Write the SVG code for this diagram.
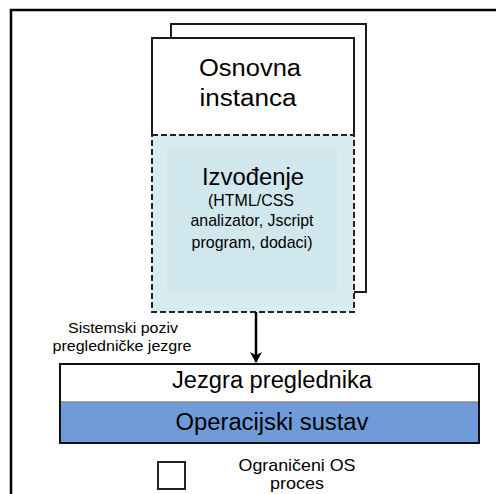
<svg xmlns="http://www.w3.org/2000/svg" width="496" height="494" viewBox="0 0 496 494">
<style>
text{font-family:"Liberation Sans",Arial,sans-serif;fill:#000;text-anchor:middle}
.solid{stroke:#1a1a1a;stroke-width:2}
.dash{stroke:#222;stroke-width:2;stroke-dasharray:6,3}
.big{font-size:23px}
.mid{font-size:17px}
.sm{font-size:15px}
</style>
<defs>
<marker id="ah" viewBox="0 0 12 12" refX="10" refY="6" markerWidth="12" markerHeight="12" markerUnits="userSpaceOnUse" orient="auto">
<path d="M0,0 L11,6 L0,12 L3,6 Z" fill="#000"/>
</marker>
</defs>
<rect width="496" height="494" fill="#fff"/>
<path d="M11,494 V10 H496" fill="none" stroke="#000" stroke-width="2.5"/>
<g id="back-instance">
<rect x="171" y="24" width="195" height="268" fill="#fff" class="solid"/>
</g>
<g id="base-instance">
<rect x="152" y="38" width="202" height="97" fill="#fff"/>
<path d="M152,135 V38 H354 V135" fill="none" class="solid"/>
<text class="big" x="250" y="76" textLength="102" lengthAdjust="spacingAndGlyphs">Osnovna</text>
<text class="big" x="248" y="106" textLength="97" lengthAdjust="spacingAndGlyphs">instanca</text>
</g>
<g id="runtime">
<rect x="152" y="135" width="202" height="177" fill="#d8ebf1" class="dash"/>
<rect x="167" y="149" width="170" height="142" fill="#d0e7ee"/>
<text class="big" x="253" y="185" textLength="102" lengthAdjust="spacingAndGlyphs">Izvođenje</text>
<text class="mid" x="251" y="206" textLength="86" lengthAdjust="spacingAndGlyphs">(HTML/CSS</text>
<text class="mid" x="252" y="226" textLength="123" lengthAdjust="spacingAndGlyphs">analizator, Jscript</text>
<text class="mid" x="252" y="248" textLength="121" lengthAdjust="spacingAndGlyphs">program, dodaci)</text>
</g>
<g id="connectors">
<line x1="256" y1="312" x2="256" y2="362" stroke="#000" stroke-width="2.5" marker-end="url(#ah)"/>
<text class="sm" x="123" y="333" textLength="110" lengthAdjust="spacingAndGlyphs">Sistemski poziv</text>
<text class="sm" x="122" y="351" textLength="139" lengthAdjust="spacingAndGlyphs">pregledničke jezgre</text>
</g>
<g id="browser-kernel">
<rect x="60" y="364" width="419" height="38" fill="#fff"/>
<text class="big" x="272" y="388" textLength="200" lengthAdjust="spacingAndGlyphs">Jezgra preglednika</text>
</g>
<g id="operating-system">
<rect x="60" y="402" width="419" height="41" fill="#6f9cd9"/>
<line x1="60" y1="402" x2="479" y2="402" stroke="#888" stroke-width="1.5"/>
<text class="big" x="272" y="430" textLength="193" lengthAdjust="spacingAndGlyphs">Operacijski sustav</text>
<rect x="60" y="364" width="419" height="79" fill="none" stroke="#111" stroke-width="2"/>
</g>
<g id="legend">
<rect x="158" y="462" width="27" height="27" fill="#fff" stroke="#222" stroke-width="2"/>
<text class="mid" x="297" y="471" textLength="117" lengthAdjust="spacingAndGlyphs">Ograničeni OS</text>
<text class="mid" x="297" y="489" textLength="54" lengthAdjust="spacingAndGlyphs">proces</text>
</g>
</svg>
